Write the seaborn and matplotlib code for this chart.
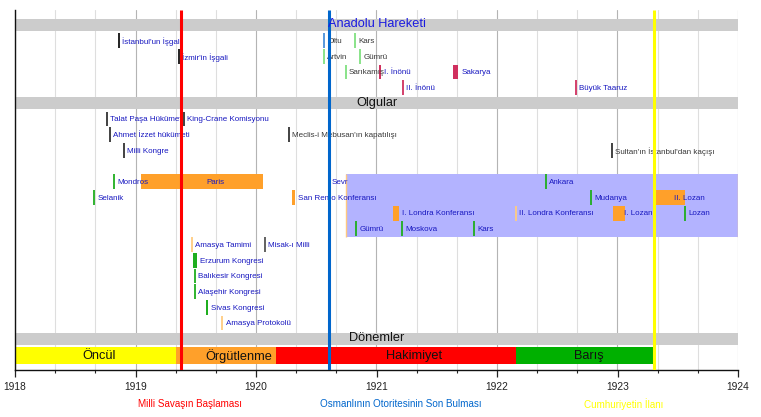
import matplotlib
matplotlib.use("Agg")
import matplotlib.pyplot as plt
from matplotlib import font_manager
import numpy as np
import pandas as pd
import seaborn as sns

# periods (bottom bar)
periods = ["Öncül", "Örgütlenme", "Hakimiyet", "Barış"]
period_start = [1918.0, 1919.336, 1920.170, 1922.158]
period_end = [1919.336, 1920.170, 1922.158, 1923.295]
period_label_at = [1918.70, 1919.86, 1921.31, 1922.76]
period_colors = ["#ffff00", "#ffa02a", "#ff0000", "#00b000"]

# section headers
sections = ["Anadolu Hareketi", "Olgular", "Dönemler"]
section_lane = [0, 5, 20]
section_text_color = ["#1a1ae0", "#111111", "#111111"]

# milestone lines
milestones = ["Milli Savaşın Başlaması", "Osmanlının Otoritesinin Son Bulması", "Cumhuriyetin İlanı"]
milestone_date = [1919.38, 1920.605, 1923.305]
milestone_label_at = [1919.45, 1921.20, 1923.05]
milestone_colors = ["#ff0000", "#0066cc", "#ffff00"]

# treaty zone (lavender box)
zone_start, zone_end = 1920.747, 1924.0
zone_lanes = (10, 13)

# events
ev_label = [
    "İstanbul'un İşgali", "Oltu", "Kars",
    "İzmir'in İşgali", "Artvin", "Gümrü",
    "Sarıkamış", "I. İnönü", "Sakarya",
    "II. İnönü", "Büyük Taaruz",
    "Talat Paşa Hükümeti", "King-Crane Komisyonu",
    "Ahmet İzzet hükümeti", "Meclis-i Mebusan'ın kapatılışı",
    "Milli Kongre", "Sultan'ın İstanbul'dan kaçışı",
    "Mondros", "Paris", "Sevr", "Ankara",
    "Selanik", "San Remo Konferansı", "Mudanya", "II. Lozan",
    "I. Londra Konferansı", "II. Londra Konferansı", "I. Lozan", "Lozan",
    "Gümrü", "Moskova", "Kars",
    "Amasya Tamimi", "Misak-ı Milli",
    "Erzurum Kongresi", "Balıkesir Kongresi", "Alaşehir Kongresi",
    "Sivas Kongresi", "Amasya Protokolü",
]
ev_start = [
    1918.863, 1920.564, 1920.822,
    1919.361, 1920.564, 1920.863,
    1920.744, 1921.021, 1921.637,
    1921.220, 1922.656,
    1918.763, 1919.402,
    1918.788, 1920.274,
    1918.905, 1922.954,
    1918.824, 1919.046, 1920.603, 1922.404,
    1918.658, 1920.299, 1922.776, 1923.320,
    1921.137, 1922.158, 1922.963, 1923.560,
    1920.830, 1921.209, 1921.807,
    1919.466, 1920.075,
    1919.475, 1919.494, 1919.494,
    1919.586, 1919.720,
]
ev_end = [
    1918.863, 1920.564, 1920.822,
    1919.361, 1920.564, 1920.863,
    1920.744, 1921.037, 1921.680,
    1921.220, 1922.656,
    1918.763, 1919.402,
    1918.788, 1920.274,
    1918.905, 1922.954,
    1918.824, 1920.056, 1920.603, 1922.404,
    1918.658, 1920.324, 1922.776, 1923.560,
    1921.187, 1922.158, 1923.062, 1923.560,
    1920.830, 1921.209, 1921.807,
    1919.466, 1920.075,
    1919.508, 1919.494, 1919.494,
    1919.600, 1919.720,
]
ev_lane = [
    1, 1, 1,
    2, 2, 2,
    3, 3, 3,
    4, 4,
    6, 6,
    7, 7,
    8, 8,
    10, 10, 10, 10,
    11, 11, 11, 11,
    12, 12, 12, 12,
    13, 13, 13,
    14, 14,
    15, 16, 17,
    18, 19,
]
ev_kind = [
    "black", "lblue", "lgreen",
    "black", "lgreen", "lgreen",
    "lgreen", "crimson", "crimson",
    "crimson", "crimson",
    "dark", "dark",
    "dark", "dark",
    "dark", "dark",
    "green", "orange", "blue", "green",
    "green", "orange", "green", "orange",
    "orange", "lorange", "orange", "green",
    "green", "green", "green",
    "lorange", "grey",
    "green", "green", "green",
    "green", "lorange",
]
ev_text = [
    "blue", "grey", "grey",
    "blue", "grey", "grey",
    "grey", "blue", "blue",
    "blue", "blue",
    "blue", "blue",
    "blue", "grey",
    "blue", "grey",
    "blue", "blue", "blue", "blue",
    "blue", "blue", "blue", "blue",
    "blue", "blue", "blue", "blue",
    "blue", "blue", "blue",
    "blue", "blue",
    "blue", "blue", "blue",
    "blue", "blue",
]
# where a label does not simply follow its mark
label_override = {"Paris": 1919.59, "II. Lozan": 1923.469, "I. Lozan": 1923.055}

kind_colors = {
    "black": "#111111", "dark": "#333333", "grey": "#555555",
    "lblue": "#4a90d9", "lgreen": "#80e080", "green": "#1fae1f",
    "crimson": "#d0305f", "orange": "#ffa02a", "lorange": "#ffcc80",
    "blue": "#0066cc",
}
text_colors = {"blue": "#1818c0", "grey": "#383838"}

events = pd.DataFrame({"label": ev_label, "start": ev_start, "end": ev_end,
                       "lane": ev_lane, "kind": ev_kind, "text": ev_text})

sns.set_theme(style="white")
names = {f.name for f in font_manager.fontManager.ttflist}
if "Liberation Sans Narrow" in names:
    small_font, small_size = "Liberation Sans Narrow", 6.8
else:
    small_font, small_size = "Liberation Sans", 5.8
plt.rcParams["font.family"] = ["Liberation Sans", "DejaVu Sans"]

fig = plt.figure(figsize=(7.61, 4.17), dpi=100)
ax = fig.add_axes([15 / 761, 47 / 417, 723 / 761, 360 / 417])
ax.set_xlim(1918, 1924)
ax.set_ylim(22.0, -0.955)

# grid
for x in np.arange(1918, 1924.01, 1 / 3):
    major = abs(x - round(x)) < 1e-6
    ax.axvline(x, color="#b4b4b4" if major else "#dedede", lw=0.8, zorder=0)

# section header bands
for name, lane, tc in zip(sections, section_lane, section_text_color):
    ax.barh(lane, 6, left=1918, height=0.77, color="#cccccc", lw=0, zorder=1)
    ax.text(1921, lane - 0.05, name, ha="center", va="center", fontsize=9.2, color=tc, zorder=6)

# treaty zone
ax.barh(sum(zone_lanes) / 2, zone_end - zone_start, left=zone_start,
        height=zone_lanes[1] - zone_lanes[0] + 1, color="#b3b3ff", lw=0, zorder=1)
ax.vlines([zone_start, zone_end], zone_lanes[0] - 0.5, zone_lanes[1] + 0.5,
          color="#ffc880", lw=1.0, zorder=1.5)

# events
for _, e in events.iterrows():
    c = kind_colors[e["kind"]]
    if e["end"] - e["start"] > 1e-6:
        ax.barh(e["lane"], e["end"] - e["start"], left=e["start"], height=0.95,
                color=c, lw=0, zorder=2)
    else:
        ax.vlines(e["start"], e["lane"] - 0.47, e["lane"] + 0.47, color=c, lw=1.3, zorder=2)
    lx = label_override.get(e["label"], e["end"] + 0.028)
    ax.text(lx, e["lane"] + 0.05, e["label"], ha="left", va="center",
            fontsize=small_size, family=[small_font, "DejaVu Sans"],
            color=text_colors[e["text"]], zorder=3)

# period bar
for name, s, e, at, c in zip(periods, period_start, period_end, period_label_at, period_colors):
    ax.barh(21.1, e - s, left=s, height=1.08, color=c, lw=0, zorder=2)
    ax.text(at, 21.1, name, ha="center", va="center", fontsize=9.2, color="#111111", zorder=6)

# milestones
for name, d, at, c in zip(milestones, milestone_date, milestone_label_at, milestone_colors):
    ax.vlines(d, -0.955, 22.0, color=c, lw=2.2, zorder=5)
    ax.text(at, -0.094, name, transform=ax.get_xaxis_transform(), ha="center", va="center",
            fontsize=7.1, color=c, clip_on=False)

ax.set_xticks(range(1918, 1925))
ax.set_xticks(np.arange(1918, 1924.01, 1 / 3), minor=True)
ax.set_yticks([])
ax.tick_params(axis="x", which="major", bottom=True, length=5, width=0.9, pad=4,
               labelsize=7.4, colors="#222222")
ax.tick_params(axis="x", which="minor", bottom=True, length=2, width=0.8, colors="#222222")
for side in ["top", "right"]:
    ax.spines[side].set_visible(False)
for side in ["left", "bottom"]:
    ax.spines[side].set_color("#111111")
    ax.spines[side].set_linewidth(1.0)
ax.grid(False)

fig.savefig("out.png", dpi=100)
